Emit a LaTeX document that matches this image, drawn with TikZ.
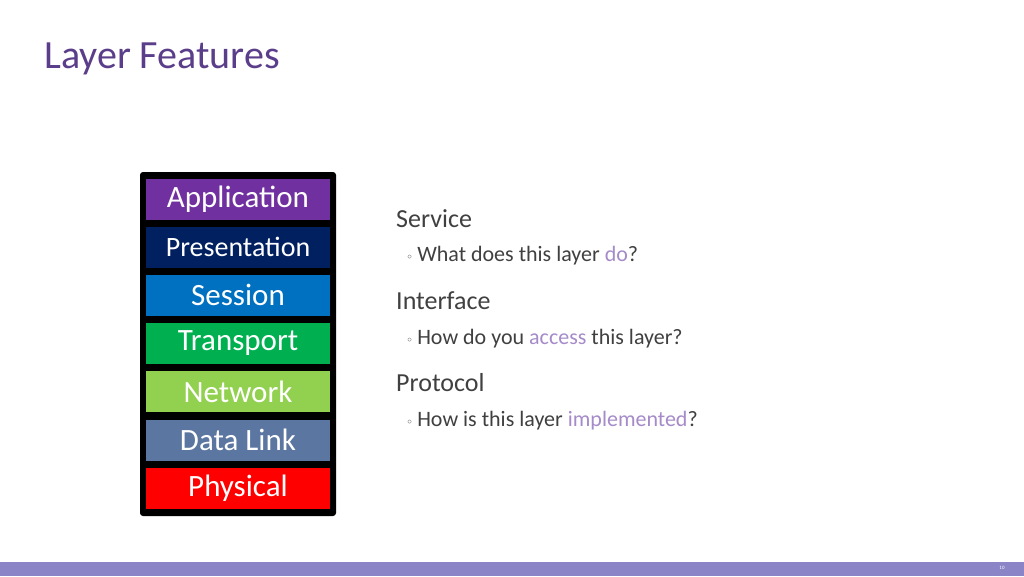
\documentclass[tikz,border=0pt]{standalone}
\usepackage{fontspec}
\setmainfont{Carlito}
\newfontfamily\dejavu{DejaVu Sans}
\definecolor{ttl}{HTML}{5B3E8A}
\definecolor{txt}{HTML}{404040}
\definecolor{hl}{HTML}{A58BC9}
\definecolor{bar}{HTML}{8B85C8}
\definecolor{cA}{HTML}{7030A0}
\definecolor{cP}{HTML}{002060}
\definecolor{cS}{HTML}{0070C0}
\definecolor{cT}{HTML}{00B050}
\definecolor{cN}{HTML}{92D050}
\definecolor{cD}{HTML}{5B76A0}
\definecolor{cY}{HTML}{FF0000}
\begin{document}
\begin{tikzpicture}[x=1pt,y=-1pt,
  layer/.style={draw=none,minimum width=184pt,minimum height=41pt,inner sep=0pt,text=white,font=\fontsize{31}{31}\selectfont},
  head/.style={anchor=base west,inner sep=0pt,text=txt,font=\fontsize{26}{26}\selectfont},
  item/.style={anchor=base west,inner sep=0pt,text=txt,font=\fontsize{22}{22}\selectfont}]
\useasboundingbox (0,0) rectangle (1024,576);
\fill[white] (0,0) rectangle (1024,576);
\fill[bar] (0,562) rectangle (1024,576);
\node[anchor=center,inner sep=0pt,text=white,font=\fontsize{5}{5}\selectfont] (pg) at (1002,568) {10};
\node[anchor=base west,inner sep=0pt,text=ttl,font=\fontsize{40}{40}\selectfont] (title) at (44,68) {Layer Features};
\fill[black,rounded corners=3pt] (140,172) rectangle (336,516);
\node[layer,fill=cA] (app) at (238,199) {Application};
\node[layer,fill=cP,font=\fontsize{28}{28}\selectfont] (pre) at (238,247) {Presentation};
\node[layer,fill=cS] (ses) at (238,295) {Session};
\node[layer,fill=cT] (tra) at (238,343.5) {Transport};
\node[layer,fill=cN] (net) at (238,391.5) {Network};
\node[layer,fill=cD] (dl) at (238,440) {Data Link};
\node[layer,fill=cY] (phy) at (238,488) {Physical};
\node[head] (s) at (396,227) {Service};
\node[item] (s1) at (406,261) {{\dejavu\fontsize{12}{12}\selectfont ◦}\hspace{4pt}What does this layer \textcolor{hl}{do}?};
\node[head] (i) at (396,309) {Interface};
\node[item] (i1) at (406,344) {{\dejavu\fontsize{12}{12}\selectfont ◦}\hspace{4pt}How do you \textcolor{hl}{access} this layer?};
\node[head] (p) at (396,391) {Protocol};
\node[item] (p1) at (406,426) {{\dejavu\fontsize{12}{12}\selectfont ◦}\hspace{4pt}How is this layer \textcolor{hl}{implemented}?};
\end{tikzpicture}
\end{document}
